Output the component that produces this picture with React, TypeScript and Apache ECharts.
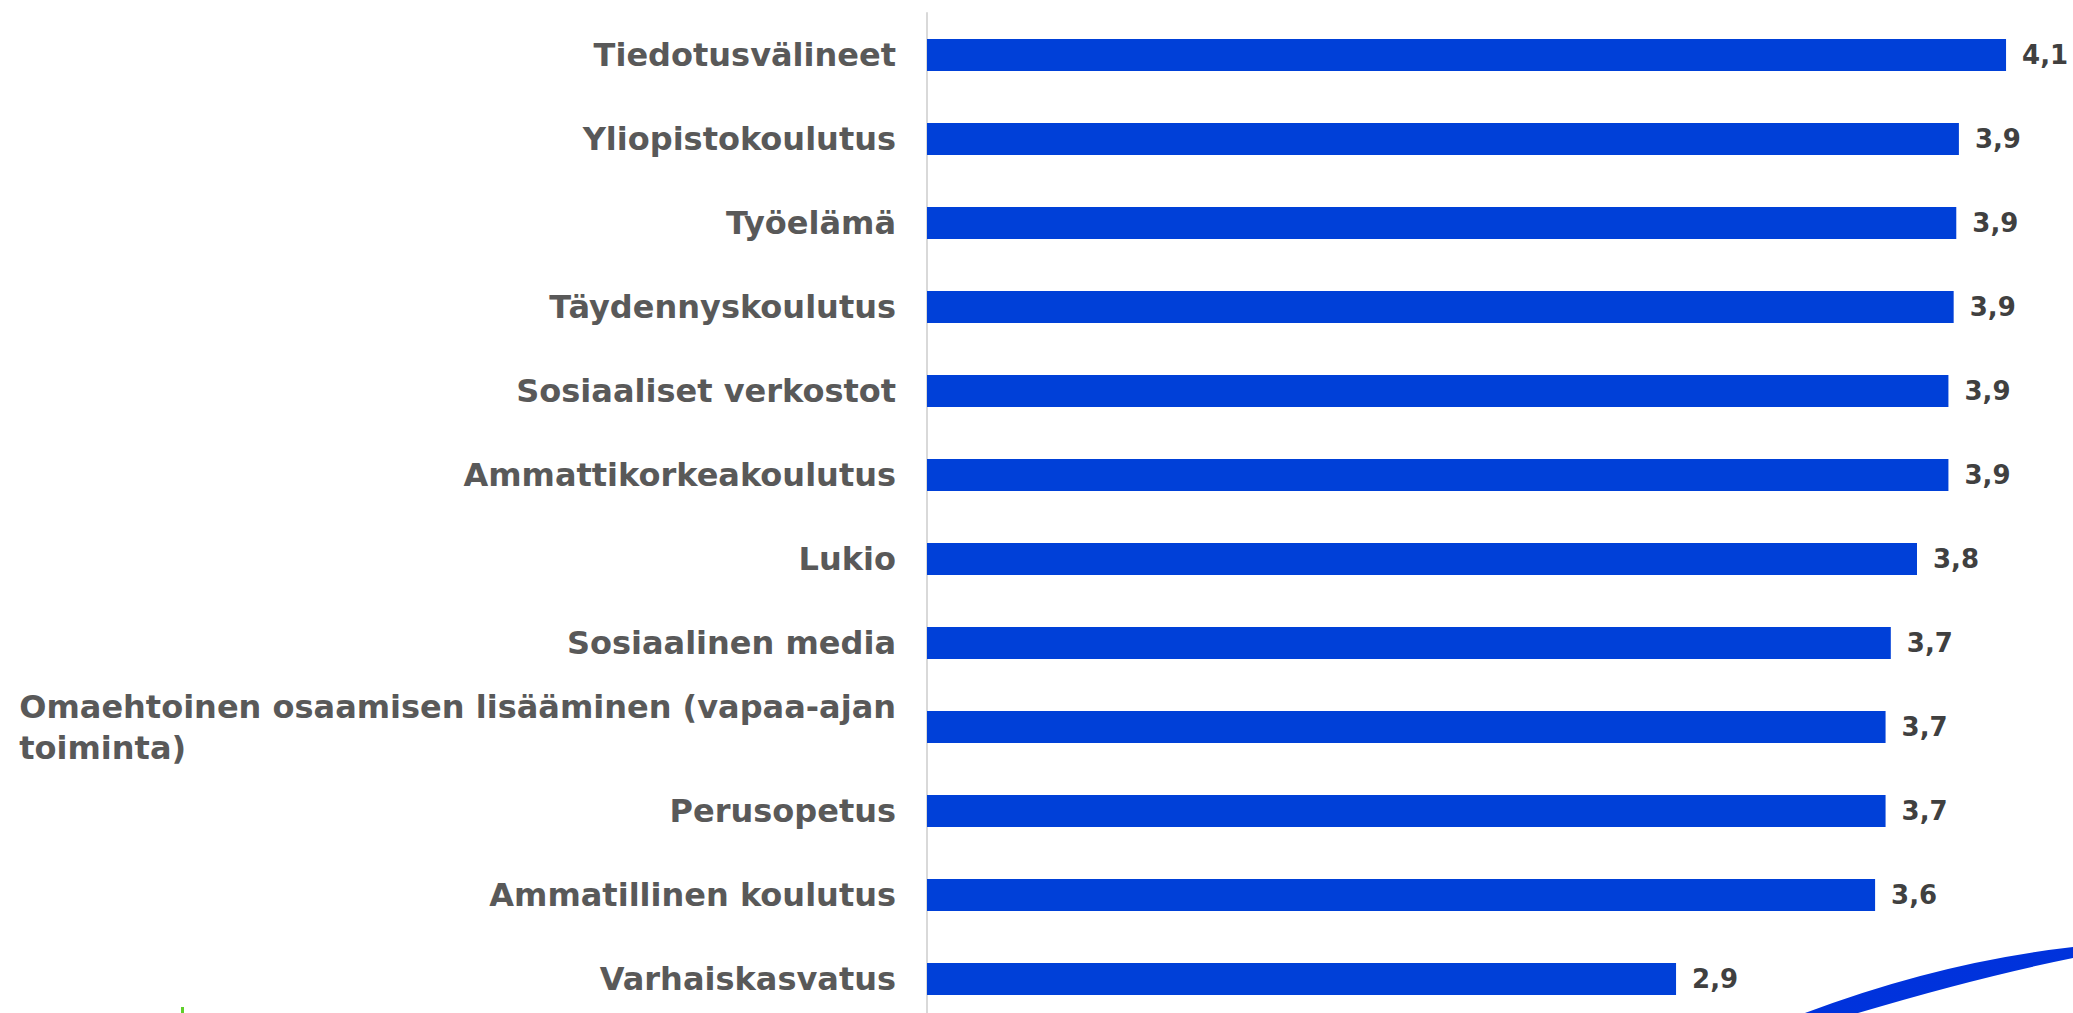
import React, { useEffect, useRef } from "react";
import * as echarts from "echarts";

const categories: string[] = [
  "Tiedotusvälineet",
  "Yliopistokoulutus",
  "Työelämä",
  "Täydennyskoulutus",
  "Sosiaaliset verkostot",
  "Ammattikorkeakoulutus",
  "Lukio",
  "Sosiaalinen media",
  "Omaehtoinen osaamisen lisääminen (vapaa-ajan\ntoiminta)",
  "Perusopetus",
  "Ammatillinen koulutus",
  "Varhaiskasvatus",
];

const values: number[] = [4.12, 3.94, 3.93, 3.92, 3.9, 3.9, 3.78, 3.68, 3.66, 3.66, 3.62, 2.86];

const axisMax = 4.2;

const SWOOSH_D =
  "M1805,1013 Q1940,962 2073,947 L2073,958 Q1975,978 1858,1013 Z";

const FONT = "'DejaVu Sans', Verdana, sans-serif";

export default function App() {
  const ref = useRef<HTMLDivElement>(null);

  useEffect(() => {
    if (!ref.current) return;
    const Swoosh = echarts.graphic.extendPath(SWOOSH_D, {});
    echarts.graphic.registerShape("swoosh", Swoosh as any);

    const chart = echarts.init(ref.current, null, { renderer: "svg" });
    chart.setOption({
      animation: false,
      backgroundColor: "#ffffff",
      grid: { left: 927, right: 46, top: 13, bottom: 0, containLabel: false },
      xAxis: {
        type: "value",
        min: 0,
        max: axisMax,
        show: false,
      },
      yAxis: {
        type: "category",
        inverse: true,
        data: categories,
        axisLine: { show: true, lineStyle: { color: "#d9d9d9", width: 2 } },
        axisTick: { show: false },
        splitLine: { show: false },
        axisLabel: {
          margin: 31,
          fontSize: 32,
          fontWeight: "bold",
          fontFamily: FONT,
          color: "#595959",
          lineHeight: 41,
          formatter: (v: string) =>
            v.includes("\n")
              ? v
                  .split("\n")
                  .map((l) => `{l|${l}}`)
                  .join("\n")
              : v,
          rich: {
            l: {
              align: "left",
              fontSize: 32,
              fontWeight: "bold",
              fontFamily: FONT,
              color: "#595959",
              lineHeight: 41,
            },
          },
        },
      },
      series: [
        {
          type: "bar",
          data: values,
          barWidth: 32,
          itemStyle: { color: "#0040d8" },
          label: {
            show: true,
            position: "right",
            distance: 16,
            fontSize: 26,
            fontWeight: "bold",
            fontFamily: FONT,
            color: "#404040",
            formatter: (p: any) => p.value.toFixed(1).replace(".", ","),
          },
        },
      ],
      graphic: [
        {
          type: "rect",
          shape: { x: 181, y: 1007, width: 3, height: 6 },
          style: { fill: "#5fcf2a" },
        },
        {
          type: "swoosh",
          x: 0,
          y: 0,
          style: {
            fill: new echarts.graphic.LinearGradient(0, 0, 1, 1, [
              { offset: 0, color: "#0030dc" },
              { offset: 0.88, color: "#0034dc" },
              { offset: 1, color: "#2a9a70" },
            ]),
          },
        },
      ],
    });
    return () => chart.dispose();
  }, []);

  return (
    <div
      ref={ref}
      style={{ position: "fixed", left: 0, top: 0, width: 2073, height: 1021 }}
    />
  );
}
